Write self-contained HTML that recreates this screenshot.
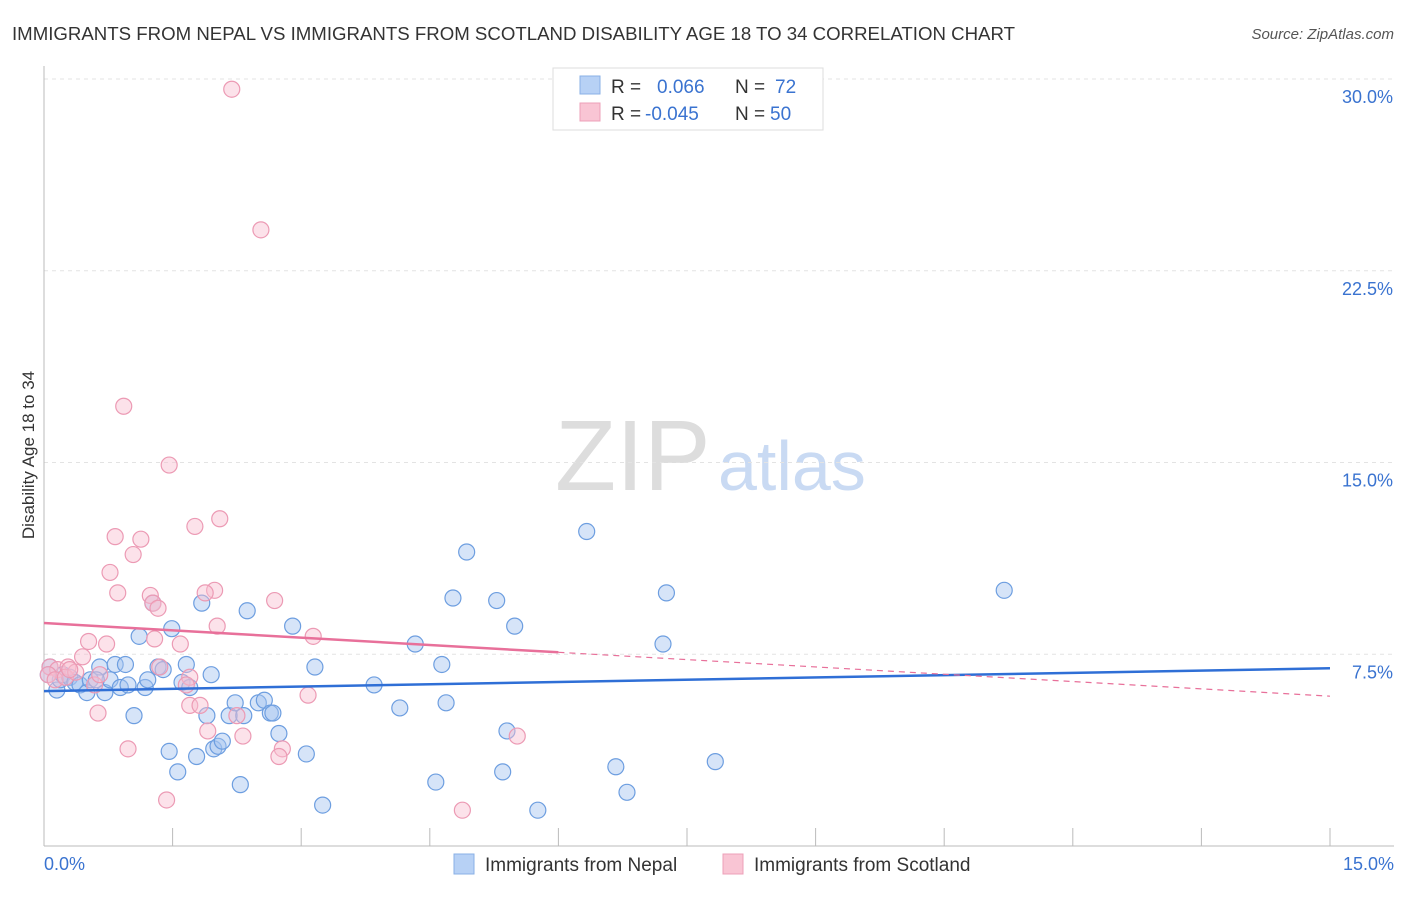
<!DOCTYPE html>
<html><head><meta charset="utf-8"><style>
body{margin:0;background:#fff;font-family:"Liberation Sans",sans-serif;}
svg text{font-family:"Liberation Sans",sans-serif;}
</style></head><body>
<svg id="chart" width="1406" height="892">
<text x="12" y="40" font-size="18" fill="#333" textLength="1003" lengthAdjust="spacingAndGlyphs">IMMIGRANTS FROM NEPAL VS IMMIGRANTS FROM SCOTLAND DISABILITY AGE 18 TO 34 CORRELATION CHART</text>
<text x="1394" y="39" font-size="15" fill="#555" font-style="italic" text-anchor="end">Source: ZipAtlas.com</text>
<text x="34" y="455" font-size="17" fill="#333" text-anchor="middle" transform="rotate(-90 34 455)">Disability Age 18 to 34</text>
<g><text x="555" y="490" font-size="100" fill="#ddd" font-family="Liberation Serif,serif">ZIP</text><text x="718" y="490" font-size="70" fill="#c9daf3">atlas</text></g>
<g id="grid"></g><g id="axes"></g><g id="marks"></g>
<g>
<rect x="553" y="68" width="270" height="62" fill="#fff" stroke="#ddd"/>
<rect x="580" y="76" width="20" height="18" fill="#b7d1f5" stroke="#8ab0e6"/>
<rect x="580" y="103" width="20" height="18" fill="#f9c5d4" stroke="#eda0b8"/>
<text x="611" y="93" font-size="19" fill="#333">R = </text><text x="657" y="93" font-size="19" fill="#3a73d0">0.066</text>
<text x="735" y="93" font-size="19" fill="#333">N = </text><text x="775" y="93" font-size="19" fill="#3a73d0">72</text>
<text x="611" y="120" font-size="19" fill="#333">R = </text><text x="645" y="120" font-size="19" fill="#3a73d0">-0.045</text>
<text x="735" y="120" font-size="19" fill="#333">N = </text><text x="770" y="120" font-size="19" fill="#3a73d0">50</text>
</g>
<g>
<rect x="454" y="854" width="20" height="20" fill="#b7d1f5" stroke="#8ab0e6"/>
<text x="485" y="871" font-size="19" fill="#333">Immigrants from Nepal</text>
<rect x="723" y="854" width="20" height="20" fill="#f9c5d4" stroke="#eda0b8"/>
<text x="754" y="871" font-size="19" fill="#333">Immigrants from Scotland</text>
</g>
</svg>
<script>
const yTicks=[7.5,15,22.5,30];
const yTickLabels=["7.5%","15.0%","22.5%","30.0%"];
const xTicks=[0,1.5,3,4.5,6,7.5,9,10.5,12,13.5,15];
const nepalX=[0.15,0.19,0.22,0.30,0.36,0.42,0.50,0.54,0.65,0.71,0.77,0.83,0.89,0.95,0.98,1.05,1.11,1.18,1.21,1.27,1.33,1.39,1.46,1.49,1.56,1.61,1.66,1.70,1.78,1.84,1.90,1.95,1.98,2.03,2.08,2.16,2.23,2.29,2.33,2.37,2.50,2.57,2.64,2.67,2.74,2.90,3.06,3.16,3.25,3.85,4.15,4.33,4.57,4.64,4.69,4.77,4.93,5.28,5.35,5.40,5.49,5.76,6.33,6.67,6.80,7.22,7.26,7.83,11.2,0.07,0.05,0.61];
const nepalY=[6.1,6.5,6.7,6.6,6.4,6.3,6.0,6.5,7.0,6.0,6.5,7.1,6.2,7.1,6.3,5.1,8.2,6.2,6.5,9.5,7.0,6.9,3.7,8.5,2.9,6.4,7.1,6.2,3.5,9.5,5.1,6.7,3.8,3.9,4.1,5.1,5.6,2.4,5.1,9.2,5.6,5.7,5.2,5.2,4.4,8.6,3.6,7.0,1.6,6.3,5.4,7.9,2.5,7.1,5.6,9.7,11.5,9.6,2.9,4.5,8.6,1.4,12.3,3.1,2.1,7.9,9.9,3.3,10.0,7.0,6.7,6.5];
const scotX=[2.19,2.53,0.93,1.46,1.76,2.05,0.83,1.13,1.04,0.77,1.99,1.24,0.86,2.69,1.27,1.33,1.88,2.02,3.14,0.52,1.29,0.73,1.59,0.45,1.35,0.07,0.16,0.28,0.05,0.13,0.25,0.37,0.59,1.70,1.66,3.08,1.70,1.82,0.63,2.25,1.91,2.78,2.74,2.32,0.98,5.52,1.43,4.88,0.30,0.65];
const scotY=[29.6,24.1,17.2,14.9,12.5,12.8,12.1,12.0,11.4,10.7,10.0,9.8,9.9,9.6,9.5,9.3,9.9,8.6,8.2,8.0,8.1,7.9,7.9,7.4,7.0,7.0,6.9,7.0,6.7,6.5,6.6,6.8,6.3,6.6,6.3,5.9,5.5,5.5,5.2,5.1,4.5,3.8,3.5,4.3,3.8,4.3,1.8,1.4,6.9,6.7];
const nepalTrend=[6.06,6.95];
const scotTrend=[8.72,5.86];
const ns="http://www.w3.org/2000/svg";
const X=v=>44+v*(1330-44)/15;
const Y=v=>846-v*(846-79)/30;
function mk(t,a,p){const e=document.createElementNS(ns,t);for(const k in a)e.setAttribute(k,a[k]);p.appendChild(e);return e;}
const grid=document.getElementById('grid'),axes=document.getElementById('axes'),marks=document.getElementById('marks');
yTicks.forEach((v,i)=>{
 const l=mk('line',{x1:44,x2:1394,y1:Y(v),y2:Y(v),stroke:'#e3e3e3','stroke-dasharray':'4 4'},grid);
 
 
 const t=mk('text',{x:1393,y:Y(v)+24,'font-size':18,fill:'#3a73d0','text-anchor':'end'},axes);
 t.textContent=yTickLabels[i];
 
 
});
const ax=mk('line',{x1:44,x2:1394,y1:846,y2:846,stroke:'#bbb'},axes);


const ay=mk('line',{x1:44,x2:44,y1:66,y2:846,stroke:'#bbb'},axes);


xTicks.forEach(v=>{const l=mk('line',{x1:X(v),x2:X(v),y1:828,y2:846,stroke:'#bbb'},axes);
 
 });
[[0,"0.0%",'start',44],[15,"15.0%",'end',1394]].forEach(d=>{const t=mk('text',{x:d[3],y:870,'font-size':18,fill:'#3a73d0','text-anchor':d[2]},axes);t.textContent=d[1];
 
 });
nepalX.forEach((x,i)=>{const c=mk('circle',{cx:X(x),cy:Y(nepalY[i]),r:8,fill:'rgba(164,196,240,0.45)',stroke:'#6d9ee0','stroke-width':1.2},marks);
 
 });
scotX.forEach((x,i)=>{const c=mk('circle',{cx:X(x),cy:Y(scotY[i]),r:8,fill:'rgba(248,190,208,0.45)',stroke:'#ec9ab4','stroke-width':1.2},marks);
 
 });
const bt=mk('line',{x1:X(0),y1:Y(nepalTrend[0]),x2:X(15),y2:Y(nepalTrend[1]),stroke:'#2f6fd6','stroke-width':2.5},marks);


const sm=scotTrend[0]+(scotTrend[1]-scotTrend[0])*6/15;
const st=mk('line',{x1:X(0),y1:Y(scotTrend[0]),x2:X(6),y2:Y(sm),stroke:'#e8709a','stroke-width':2.5},marks);


const sd=mk('line',{x1:X(6),y1:Y(sm),x2:X(15),y2:Y(scotTrend[1]),stroke:'#e8709a','stroke-width':1.2,'stroke-dasharray':'6 5'},marks);


</script>
</body></html>
